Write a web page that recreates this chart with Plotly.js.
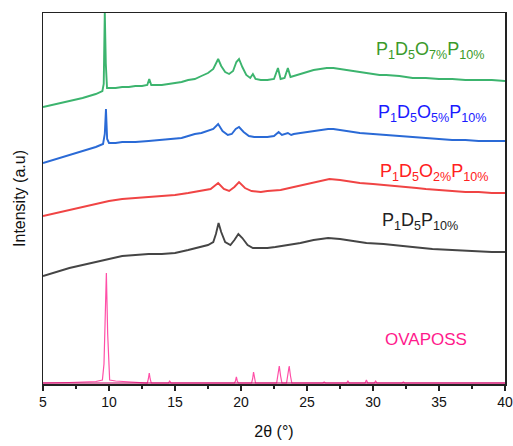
<!DOCTYPE html>
<html>
<head>
<meta charset="utf-8">
<script src="https://cdn.plot.ly/plotly-3.0.1.min.js"></script>
<style>html,body{margin:0;padding:0;background:#fff;}#chart{width:513px;height:446px;}</style>
</head>
<body>
<div id="chart"></div>
<script>
// Intensity values in arbitrary units (stacked offsets)
const greenX = [5,6,7,8,9,9.5,9.6,9.68,9.76,9.85,10,10.5,11,11.5,12,12.5,12.9,13.05,13.2,13.5,14,14.5,15,15.5,16,16.5,17,17.5,17.9,18.1,18.27,18.5,18.8,19.1,19.4,19.65,19.85,20.1,20.4,20.7,20.9,21.1,21.5,22,22.5,22.8,23.0,23.3,23.55,23.75,24,24.5,25,25.5,26,26.5,27,27.5,28,28.5,29,29.5,30,30.5,31,32,33,34,35,36,37,38,39,40];
const greenY = [277,280,283,286,290,293,300,372,320,296,296,296,297,297,298,298,299,305,299,299,299,300,301,302,304,305,308,311,315,321,325,318,312,310,313,322,325,317,309,306,310,305,304,304,305,316,305,306,316,307,308,310,312,314,315,316,316,315,314,313,312,311,310,309,309,308,306,306,305,305,304,304,304,303];

const blueX = [5,6,7,8,9,9.55,9.68,9.77,9.86,10,10.5,11,12,13,14,15,15.5,16,16.5,17,17.5,17.9,18.27,18.6,19.0,19.3,19.6,19.85,20.2,20.6,21,21.5,22,22.5,22.85,23.1,23.55,23.8,24,24.5,25,25.5,26,26.6,27,27.5,28,29,30,31,32,33,34,35,36,37,38,39,40];
const blueY = [221,225,229,233,237,240,250,275,245,241,241,242,242,243,244,245,246,248,250,251,253,255,260,253,249,250,255,257,252,248,247,247,247,248,252,249,251,249,250,251,252,253,254,255,255,254,253,251,250,249,248,247,246,245,244,244,243,243,243];

const redX = [5,6,7,8,9,10,11,12,13,14,15,16,17,17.7,18.27,18.7,19.1,19.5,19.85,20.3,20.8,21.5,22,23,24,25,26,26.7,27.5,28,29,30,31,32,33.3,34,35,36,37,38,39,40];
const redY = [168,171,174,177,180,183,185,186,187,188,189,191,193,195,201,195,193,197,202,196,193,192,193,194,197,200,203,205,204,203,201,200,199,198,196,195,194,193,192,192,191,191];

const blackX = [5,6,7,8,9,10,11,12,13,14,15,16,16.9,17.5,17.9,18.1,18.3,18.5,18.8,19.2,19.5,19.8,20.1,20.5,20.9,21.5,22,22.6,23.5,24.5,25.5,26.6,27.5,28.5,29.5,30.8,32,33,34.5,36,37,38,39,40];
const blackY = [108,112,116,119,122,125,128,129,130,130,131,134,137,139,142,150,161,152,142,139,144,150,146,139,136,136,136,137,139,141,144,146,145,143,141,140,138,137,135,134,133,133,132,132];

const pinkX = [5,6,7,8,9,9.5,9.62,9.7,9.8,9.9,9.98,10.05,10.5,11,12,12.9,12.98,13.05,13.12,13.2,14,14.5,14.6,14.7,15,19.5,19.58,19.65,19.72,19.8,20.8,20.88,20.95,21.02,21.1,22.7,22.8,22.9,23.0,23.1,23.45,23.55,23.65,23.75,23.85,26.2,26.3,26.4,28.0,28.1,28.2,29.4,29.5,29.6,30.1,30.2,30.3,32.2,32.3,32.4,35.6,35.7,35.8,40];
const pinkY = [1,1,1.5,2,2.5,4,20,60,111,50,12,4,3,2.5,1.5,1,5,11,5,1,1,1,3,1,1,1,3,7,3,1,1,5,12,5,1,1,8,18,8,1,1,8,18,8,1,1,2,1,1,3,1,1,4,1,1,3,1,1,2,1,1,1.5,1,1];

const seriesNames = ['OVAPOSS','P1D5P10%','P1D5O2%P10%','P1D5O5%P10%','P1D5O7%P10%'];
const labelTexts = ['OVAPOSS','P<sub>1</sub>D<sub>5</sub>P<sub>10%</sub>','P<sub>1</sub>D<sub>5</sub>O<sub>2%</sub>P<sub>10%</sub>','P<sub>1</sub>D<sub>5</sub>O<sub>5%</sub>P<sub>10%</sub>','P<sub>1</sub>D<sub>5</sub>O<sub>7%</sub>P<sub>10%</sub>'];
const xTicks = [5,10,15,20,25,30,35,40];

const lineColors = ['#ff4fa7','#454545','#f04444','#2a6ad6','#3cb46e'];
const labelColors = ['#ff1a8c','#222222','#ff2020','#1a1aff','#3a9a2a'];
const xs = [pinkX, blackX, redX, blueX, greenX];
const ys = [pinkY, blackY, redY, blueY, greenY];

const traces = xs.map((x, i) => ({
  x: x, y: ys[i], type: 'scatter', mode: 'lines', name: seriesNames[i],
  line: {color: lineColors[i], width: i === 0 ? 1.2 : 1.9},
  hoverinfo: 'skip'
}));
// dark magenta baseline of the OVAPOSS pattern
traces.push({x: [5, 40], y: [1, 1], type: 'scatter', mode: 'lines', line: {color: '#c0005e', width: 1.2}, showlegend: false, hoverinfo: 'skip'});

const labelPos = [[0.738, 0.119], [0.732, 0.437], [0.727, 0.569], [0.723, 0.730], [0.719, 0.900]];
const labelSizes = [17, 18, 18, 18, 18];
const annotations = labelTexts.map((t, i) => ({
  text: t, xref: 'paper', yref: 'paper', x: labelPos[i][0], y: labelPos[i][1],
  xanchor: 'left', yanchor: 'middle', showarrow: false, borderpad: 0,
  font: {family: 'Liberation Sans, Arial, sans-serif', size: labelSizes[i], color: labelColors[i]}
}));

const layout = {
  width: 513, height: 446,
  margin: {l: 43, r: 8, t: 13, b: 62},
  paper_bgcolor: '#ffffff', plot_bgcolor: '#ffffff',
  showlegend: false,
  font: {family: 'Liberation Sans, Arial, sans-serif', color: '#111'},
  xaxis: {
    range: [5, 40], tickvals: xTicks, ticktext: xTicks.map(String),
    ticks: 'outside', ticklen: 5, tickwidth: 1.3, tickcolor: '#222',
    minor: {dtick: 2.5, tick0: 5, ticks: 'outside', ticklen: 3, tickwidth: 1.2, tickcolor: '#222', showgrid: false},
    showline: true, linecolor: '#222', linewidth: 1.5, mirror: true,
    showgrid: false, zeroline: false,
    tickfont: {size: 14, color: '#111'},
    title: {text: '2θ (°)', font: {size: 16, color: '#111'}, standoff: 16}
  },
  yaxis: {
    range: [0, 371], showticklabels: false, ticks: '',
    showline: true, linecolor: '#222', linewidth: 1.5, mirror: true,
    showgrid: false, zeroline: false,
    title: {text: 'Intensity (a.u)', font: {size: 16, color: '#111'}, standoff: 12}
  },
  annotations: annotations
};

Plotly.newPlot('chart', traces, layout, {displayModeBar: false, staticPlot: true});
</script>
</body>
</html>
